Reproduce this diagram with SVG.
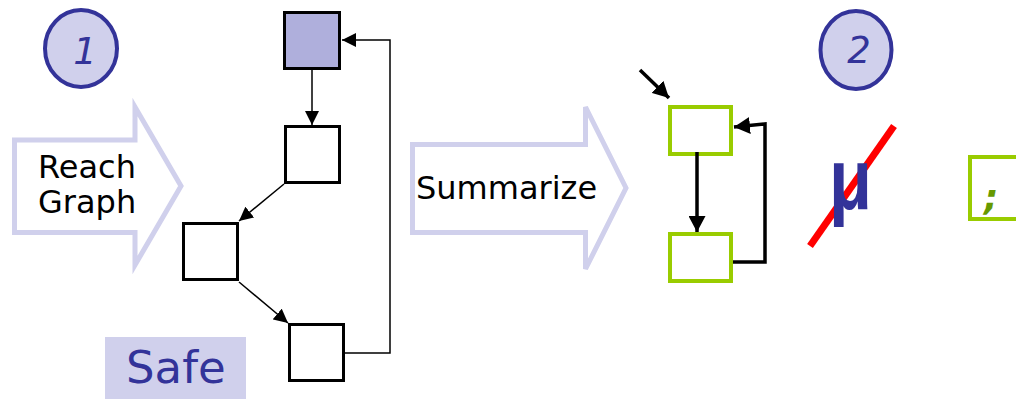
<svg xmlns="http://www.w3.org/2000/svg" width="1016" height="399" viewBox="0 0 1016 399">
  <defs>
    <marker id="head" markerUnits="userSpaceOnUse" markerWidth="14" markerHeight="14" viewBox="0 0 14 14" refX="14" refY="7" orient="auto">
      <path d="M0,0 L14,7 L0,14 Z" fill="#000"/>
    </marker>
    <marker id="headBig" markerUnits="userSpaceOnUse" markerWidth="16" markerHeight="17" viewBox="0 0 16 17" refX="16" refY="8.5" orient="auto">
      <path d="M0,0 L16,8.5 L0,17 Z" fill="#000"/>
    </marker>
  </defs>
  <style>
    .step { fill: #d0d0ec; stroke: #333399; stroke-width: 4; }
    .num { font-family: "DejaVu Sans", sans-serif; font-style: italic; font-size: 37px; fill: #333399; }
    .bigArrow { fill: #fff; stroke: #d0d0ec; stroke-width: 5; stroke-linejoin: miter; }
    .label { font-family: "DejaVu Sans", sans-serif; font-size: 32px; fill: #000; }
    .state { fill: #fff; stroke: #000; stroke-width: 3; }
    .sum { fill: #fff; stroke: #99cc00; stroke-width: 4; }
    .edge { fill: none; stroke: #000; stroke-width: 1.5; }
    .edgeBold { fill: none; stroke: #000; stroke-width: 3.5; }
  </style>
  <rect width="1016" height="399" fill="#fff"/>

  <!-- step markers -->
  <g id="step1">
    <ellipse class="step" cx="81" cy="48.5" rx="36" ry="38.5"/>
    <text class="num" x="85" y="64" text-anchor="middle">1</text>
  </g>
  <g id="step2">
    <ellipse class="step" cx="856" cy="50" rx="35.5" ry="39"/>
    <text class="num" x="859" y="63" text-anchor="middle">2</text>
  </g>

  <!-- block arrows -->
  <g id="reach-graph">
    <polygon class="bigArrow" points="14.5,140 135,140 135,107 181,186 135,265 135,232.5 14.5,232.5"/>
    <text class="label" x="38" y="178">Reach</text>
    <text class="label" x="38" y="213">Graph</text>
  </g>
  <g id="summarize">
    <polygon class="bigArrow" points="412.5,144.5 585.5,144.5 585.5,107 626,188 585.5,269 585.5,232.5 412.5,232.5"/>
    <text class="label" x="416" y="199">Summarize</text>
  </g>

  <!-- reach graph states -->
  <g id="s0"><rect class="state" x="284.5" y="12.5" width="55" height="56" style="fill:#afafdc"/></g>
  <g id="s1"><rect class="state" x="285.5" y="126.5" width="54" height="56"/></g>
  <g id="s2"><rect class="state" x="183.5" y="223.5" width="54" height="56"/></g>
  <g id="s3"><rect class="state" x="289.5" y="324.5" width="54" height="56"/></g>

  <g id="safe">
    <rect x="105" y="337" width="141" height="62" fill="#d0d0ec"/>
    <text x="126" y="383" font-family="DejaVu Sans, sans-serif" font-size="45" fill="#333399">Safe</text>
  </g>

  <!-- summary states -->
  <g id="t0"><rect class="sum" x="670" y="107" width="61" height="47"/></g>
  <g id="t1"><rect class="sum" x="670" y="234" width="61" height="47"/></g>

  <!-- fixpoint operator, struck out -->
  <g id="mu">
    <line x1="810" y1="246" x2="894" y2="126" stroke="#ff0000" stroke-width="7"/>
    <text x="829" y="209" font-family="Liberation Sans, sans-serif" font-weight="bold" font-size="88" fill="#333399" textLength="43" lengthAdjust="spacingAndGlyphs">μ</text>
  </g>

  <g id="seq">
    <rect class="sum" x="970" y="157" width="60" height="62"/>
    <text x="984" y="210" font-family="DejaVu Sans, sans-serif" font-weight="bold" font-style="italic" font-size="36" fill="#669900">;</text>
  </g>

  <!-- connectors -->
  <g id="connectors">
    <line class="edge" x1="312" y1="70" x2="312" y2="125" marker-end="url(#head)"/>
    <line class="edge" x1="284" y1="184" x2="239" y2="221" marker-end="url(#head)"/>
    <line class="edge" x1="239" y1="282" x2="288" y2="323" marker-end="url(#head)"/>
    <path class="edge" d="M345,353 H390 V40 H342" marker-end="url(#head)"/>
    <line class="edgeBold" x1="697" y1="152" x2="697" y2="232" marker-end="url(#headBig)"/>
    <path class="edgeBold" d="M733,262 H765 V124 L734,127" marker-end="url(#headBig)"/>
    <line class="edgeBold" x1="640" y1="70" x2="669" y2="98" marker-end="url(#headBig)"/>
  </g>
</svg>
